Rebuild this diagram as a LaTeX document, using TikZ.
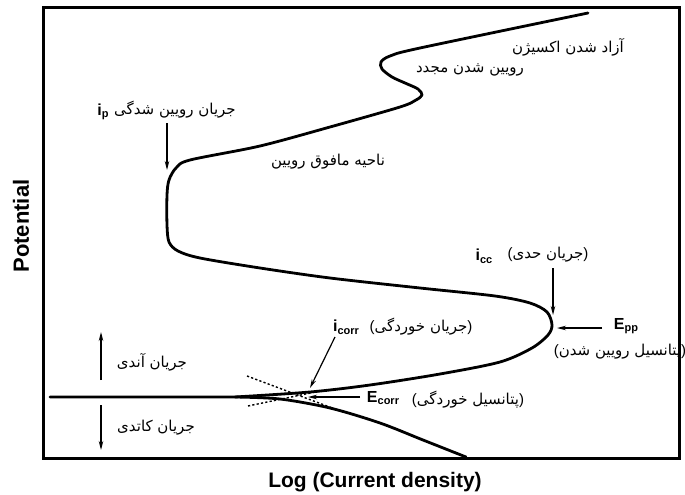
\documentclass[tikz,border=0pt]{standalone}
\usepackage{fontspec}
\setmainfont{Liberation Sans}
\newfontfamily\fa[Script=Arabic]{DejaVu Sans}
\TeXXeTstate=1
\usetikzlibrary{arrows.meta}
\newcommand{\fatext}[1]{{\fa\beginR #1\endR}}
\newcommand{\lp}{{\normalfont(}}
\newcommand{\rp}{{\normalfont)}}
\newcommand{\sub}[2]{\textbf{#1}\raisebox{-0.3ex}{\fontsize{11}{12}\selectfont\bfseries #2}}
\begin{document}
\begin{tikzpicture}[x=1pt,y=-1pt,
  frame/.style={line width=3.2pt},
  curve/.style={line width=2.8pt,line join=round,line cap=round},
  tafel/.style={line width=1.4pt,dash pattern=on 2.2pt off 2.2pt},
  pointer/.style={line width=1.2pt,-{Stealth[length=9pt,width=4.5pt]}},
  fa/.style={font=\fa\fontsize{15}{17}\selectfont,inner sep=0pt},
  en/.style={font=\fontsize{16}{18}\selectfont,inner sep=0pt},
  axis/.style={font=\fontsize{21}{23}\selectfont\bfseries,inner sep=0pt}]
\useasboundingbox (0,0) rectangle (685,495);
% frame
\draw[frame] (43.5,7.5) rectangle (679.5,458.5);
% axis labels
\node[axis,rotate=90,font=\fontsize{22}{24}\selectfont\bfseries] (ylab) at (21,226) {Potential};
\node[axis,anchor=base] (xlab) at (375,487) {Log (Current density)};
% polarization curve (anodic)
\draw[curve] (50,397) -- (235,397) -- plot[smooth,tension=0.5] coordinates {(235,397) (310,392) (370,385) (440,374) (500,362) (532,348) (548,335) (552,325) (547,312) (530,303) (495,296) (420,288) (330,278) (260,268) (200,258) (178,251) (169,242) (167,225) (167,195) (169,180) (176,168) (190,160) (260,146) (330,127) (400,107) (416,100) (422,95) (418,89) (405,83) (392,77) (382,69) (381,62) (390,56) (420,48) (588,13)};
% cathodic branch
\draw[curve] plot[smooth,tension=0.5] coordinates {(235,397) (280,399) (330,408) (380,423) (423,440) (466,457)};
% Tafel extrapolations
\draw[tafel] (247,376) -- (343,412);
\draw[tafel] (248,406) -- (320,391);
% labels
\node[fa] (oxy) at (568,47) {\fatext{آزاد شدن اکسیژن}};
\node[fa] (repass) at (470,70) {\fatext{رویین شدن مجدد}};
\node[en] (ip) at (103,112) {\sub{i}{p}};
\node[fa] (iptext) at (175,110) {\fatext{جریان رویین شدگی}};
\node[fa] (transp) at (328,162) {\fatext{ناحیه مافوق رویین}};
\node[en] (icc) at (484,256) {\sub{i}{cc}};
\node[fa] (icctext) at (548,255) {\lp\fatext{جریان حدی}\rp};
\node[en] (epp) at (626,326) {\sub{E}{pp}};
\node[fa] (epptext) at (620,352) {\lp\fatext{پتانسیل رویین شدن}\rp};
\node[en] (icorr) at (346,327) {\sub{i}{corr}};
\node[fa] (icorrtext) at (421,327) {\lp\fatext{جریان خوردگی}\rp};
\node[en] (ecorr) at (383,398) {\sub{E}{corr}};
\node[fa] (ecorrtext) at (468,400) {\lp\fatext{پتانسیل خوردگی}\rp};
\node[fa] (anodic) at (152,362) {\fatext{جریان آندی}};
\node[fa] (cathodic) at (156,428) {\fatext{جریان کاتدی}};
% arrows
\coordinate (ipS) at (167,123); \coordinate (ipE) at (167,170);
\coordinate (iccS) at (553,268); \coordinate (iccE) at (553,315);
\coordinate (eppS) at (602,328); \coordinate (eppE) at (557,328);
\coordinate (icS) at (335,337); \coordinate (icE) at (310,388);
\coordinate (ecS) at (360,397); \coordinate (ecE) at (308,397);
\coordinate (anS) at (101,380); \coordinate (anE) at (101,332);
\coordinate (caS) at (101,405); \coordinate (caE) at (101,450);
\draw[pointer] (ipS) -- (ipE);
\draw[pointer] (iccS) -- (iccE);
\draw[pointer] (eppS) -- (eppE);
\draw[pointer] (icS) -- (icE);
\draw[pointer] (ecS) -- (ecE);
\draw[pointer] (anS) -- (anE);
\draw[pointer] (caS) -- (caE);
\end{tikzpicture}
\end{document}
